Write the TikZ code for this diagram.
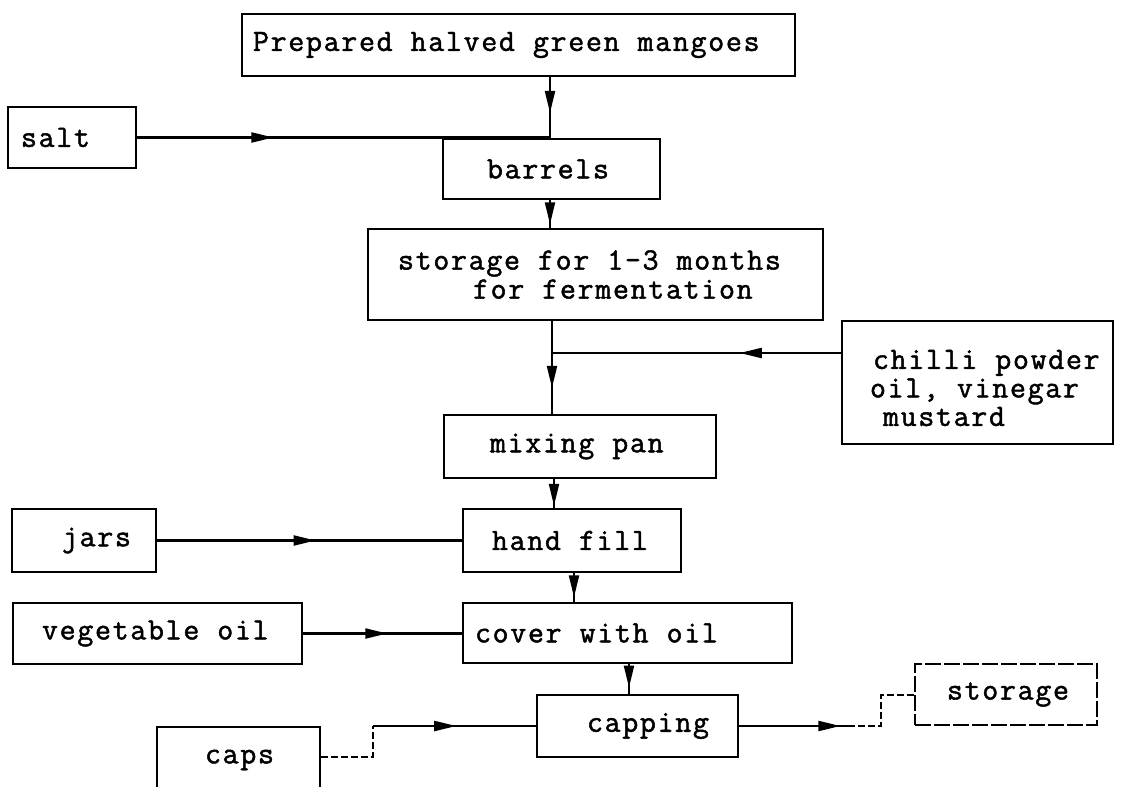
\documentclass[tikz,border=0pt]{standalone}
\usepackage{fontspec}
\newfontfamily\tw[FakeBold=1.5,LetterSpace=5.5]{Latin Modern Mono}
% typewriter setting with an 18pt pitch; \sk is one blank typewriter cell
\newcommand\twset[1]{\tw\fontsize{31}{#1}\selectfont}
\newcommand\sk{\kern18pt\relax}
\usetikzlibrary{arrows.meta,decorations.markings}
\begin{document}
\begin{tikzpicture}[x=1pt,y=-1pt,
  box/.style={draw, line width=2.3pt, inner xsep=10pt, inner ysep=0pt,
    align=left, font=\twset{29}},
  thinbox/.style={box, line width=1.6pt},
  dashbox/.style={box, line width=1.6pt, dash pattern=on 16pt off 3pt},
  flow/.style={line width=2.1pt},
  faint/.style={line width=1.5pt, dash pattern=on 7pt off 3pt},
  tipat/.style={postaction={decorate}, decoration={markings,
    mark=at position #1 with {\arrow{Triangle[length=22pt,width=10pt]}}}}
]
\useasboundingbox (0,0) rectangle (1122,787);
\clip (0,0) rectangle (1122,787);
\fill[white] (0,0) rectangle (1122,787);

% process steps
\node[box, minimum width=553pt, minimum height=62pt, text width=533pt] (top) at (518.5,45)
  {\hspace*{1pt}Prepared\sk halved\sk green\sk mangoes};
\node[box, minimum width=128pt, minimum height=61pt, text width=108pt] (salt) at (72,137.5)
  {\hspace*{3pt}salt};
\node[box, minimum width=217pt, minimum height=60pt, text width=197pt] (barrels) at (551.5,169)
  {\hspace*{34pt}barrels};
\node[box, minimum width=455pt, minimum height=91pt, text width=435pt] (storage1) at (595.5,274.5)
  {\hspace*{20pt}storage\sk for\sk 1-3\sk months\\\hspace*{95pt}for\sk fermentation};
\node[box, inner xsep=6pt, minimum width=271pt, minimum height=123pt, text width=259pt,
      font=\twset{28.5}] (chilli) at (977.5,382.5)
  {\rule{0pt}{30pt}\hspace*{25pt}chilli\sk powder\\\hspace*{22pt}oil,\sk vinegar\\\hspace*{35pt}mustard};
\node[box, minimum width=272pt, minimum height=63pt, text width=252pt] (mixing) at (580,446.5)
  {\hspace*{36pt}mixing\sk pan};
\node[box, minimum width=144pt, minimum height=63pt, text width=124pt] (jars) at (84,540.5)
  {\hspace*{40pt}jars};
\node[box, minimum width=218pt, minimum height=63pt, text width=198pt] (handfill) at (572,540.5)
  {\hspace*{19pt}hand\sk fill};
\node[box, minimum width=289pt, minimum height=61pt, text width=269pt] (vegoil) at (157.5,633.5)
  {\hspace*{19pt}vegetable\sk oil};
\node[box, minimum width=329pt, minimum height=60pt, text width=309pt] (cover) at (627.5,633)
  {\hspace*{2pt}cover\sk with\sk oil};
\node[thinbox, minimum width=201pt, minimum height=62pt, text width=181pt] (capping) at (637.5,726)
  {\hspace*{40pt}capping};
\node[thinbox, minimum width=163pt, minimum height=66pt, text width=143pt] (caps) at (238.5,760)
  {\hspace*{38pt}caps};
\node[dashbox, minimum width=182pt, minimum height=61pt, text width=162pt] (storage2) at (1006,694.5)
  {\hspace*{22pt}storage};

% connector routing points
\coordinate (xa) at (550,0);
\coordinate (xb) at (552,0);
\coordinate (jn) at (552,353);
\coordinate (xc) at (554,0);
\coordinate (xd) at (574,0);
\coordinate (xe) at (629,0);
\coordinate (k1) at (373,757);
\coordinate (k2) at (373,726);
\coordinate (k3) at (848,726);
\coordinate (k4) at (881,726);
\coordinate (k5) at (881,695);

% connectors
\draw[flow, tipat=0.59] (top.south -| xa) -- (barrels.north -| xa);
\draw[flow, tipat=0.33] (salt.east) -- (salt.east -| xa);
\draw[flow, tipat=0.87] (barrels.south -| xa) -- (storage1.north -| xa);
\draw[flow, tipat=0.72] (storage1.south -| xb) -- (mixing.north -| xb);
\draw[flow, tipat=0.35] (chilli.west |- jn) -- (jn);
\draw[flow, tipat=0.93] (mixing.south -| xc) -- (handfill.north -| xc);
\draw[flow, tipat=0.52] (jars.east) -- (handfill.west);
\draw[flow, tipat=0.84] (handfill.south -| xd) -- (cover.north -| xd);
\draw[flow, tipat=0.53] (vegoil.east) -- (cover.west |- vegoil.east);
\draw[flow, tipat=0.78] (cover.south -| xe) -- (capping.north -| xe);
\draw[faint] (caps.east |- k1) -- (k1) -- (k2);
\draw[flow, tipat=0.51] (k2) -- (capping.west |- k2);
\draw[flow, tipat=0.93] (capping.east |- k3) -- (k3);
\draw[faint] (k3) -- (k4) -- (k5) -- (storage2.west |- k5);
\end{tikzpicture}
\end{document}
